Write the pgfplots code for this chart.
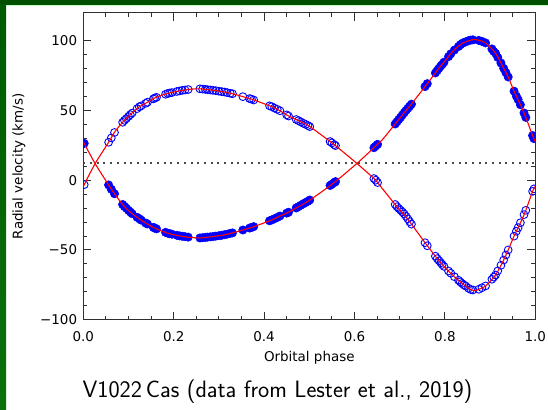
\documentclass[border=0pt]{standalone}
\usepackage{fontspec}
\setmainfont{DejaVu Sans}
\usepackage{pgfplots}
\usepackage{pgfplotstable}
\pgfplotsset{compat=1.18}
\definecolor{frameDark}{HTML}{005000}
\definecolor{frameLeftTop}{HTML}{005A00}
\definecolor{frameLeftBot}{HTML}{0B720B}
\definecolor{obsBlue}{HTML}{0000FF}
\definecolor{fitRed}{HTML}{FF0000}
\definecolor{gammaGray}{HTML}{4A4A4A}
\definecolor{axisInk}{HTML}{303030}

% observed radial velocities: phase, star 1 (filled), star 2 (open)
\pgfplotstableread{
ph v1 v2
0.002 26.4 -3.2
0.056 -3.4 27.2
0.062 -6.5 30.3
0.069 -9.7 34.2
0.087 -17.4 41.5
0.091 -18.8 42.9
0.095 -20.0 44.1
0.100 -21.6 45.7
0.104 -22.8 47.0
0.108 -24.0 48.1
0.119 -26.6 51.3
0.124 -27.7 52.6
0.128 -28.6 53.3
0.138 -30.7 55.1
0.142 -31.4 55.9
0.155 -33.8 58.3
0.158 -34.3 58.9
0.162 -34.9 59.4
0.182 -37.4 61.6
0.187 -38.0 62.2
0.191 -38.3 62.5
0.196 -38.7 62.8
0.207 -39.5 63.6
0.213 -39.9 64.0
0.219 -40.2 64.4
0.225 -40.5 64.7
0.232 -40.8 65.0
0.258 -41.4 65.5
0.264 -41.2 65.3
0.270 -41.0 65.1
0.275 -40.8 64.9
0.281 -40.6 64.7
0.287 -40.4 64.4
0.293 -40.1 64.2
0.300 -39.8 63.8
0.306 -39.5 63.5
0.312 -39.1 63.2
0.318 -38.7 62.8
0.325 -38.1 62.3
0.330 -37.8 62.0
0.353 -35.7 59.9
0.368 -34.3 58.5
0.372 -33.9 58.1
0.377 -33.3 57.5
0.412 -29.1 53.3
0.417 -28.5 52.7
0.423 -27.6 51.7
0.429 -26.7 50.8
0.435 -25.7 49.8
0.450 -23.6 46.8
0.454 -23.0 46.0
0.471 -19.9 43.5
0.476 -19.0 42.7
0.481 -18.0 41.8
0.487 -16.9 40.8
0.492 -16.0 40.0
0.497 -15.1 39.2
0.501 -14.2 38.4
0.546 -3.8 27.7
0.550 -2.9 26.7
0.555 -1.7 25.5
0.558 -1.0 24.8
0.643 23.3 1.2
0.647 24.5 0.0
0.651 25.7 -1.7
0.690 40.3 -17.4
0.694 41.9 -19.0
0.698 43.5 -20.3
0.702 45.1 -21.5
0.706 46.8 -22.8
0.710 48.4 -24.2
0.714 50.0 -25.9
0.718 51.5 -27.7
0.722 53.0 -29.7
0.726 54.5 -31.5
0.756 67.1 -44.8
0.761 69.2 -47.0
0.779 76.9 -54.5
0.783 78.6 -56.2
0.787 80.3 -57.7
0.791 81.9 -59.2
0.794 83.0 -60.4
0.798 84.6 -61.8
0.808 88.6 -65.1
0.813 90.6 -66.7
0.821 93.3 -69.2
0.830 95.8 -71.7
0.834 97.0 -72.9
0.838 98.0 -74.0
0.842 98.7 -75.1
0.846 99.2 -75.9
0.852 100.0 -77.4
0.857 100.4 -78.4
0.862 100.6 -78.7
0.875 100.2 -78.2
0.882 99.5 -77.1
0.890 98.4 -75.8
0.904 94.1 -71.0
0.908 92.3 -69.5
0.912 91.0 -68.0
0.917 88.0 -65.0
0.924 84.0 -61.0
0.930 80.2 -57.2
0.935 77.1 -53.6
0.940 74.0 -50.0
0.953 63.8 -40.1
0.958 60.3 -36.6
0.962 57.7 -34.0
0.967 54.1 -30.5
0.975 48.2 -24.7
0.979 45.0 -21.6
0.994 32.0 -8.0
0.997 29.8 -6.2
}\obs

% orbital solution
\pgfplotstableread{
ph s1 s2
0.000 27.6 -4.5
0.026 12.0 11.8
0.056 -3.4 27.2
0.070 -10.1 34.8
0.088 -17.8 41.9
0.103 -22.6 46.7
0.122 -27.3 52.2
0.139 -30.9 55.3
0.159 -34.5 59.1
0.188 -38.1 62.3
0.216 -40.1 64.2
0.236 -41.0 65.2
0.258 -41.4 65.5
0.284 -40.5 64.6
0.310 -39.3 63.3
0.332 -37.6 61.8
0.353 -35.7 59.9
0.373 -33.8 58.0
0.417 -28.5 52.7
0.435 -25.7 49.8
0.452 -23.3 46.4
0.476 -19.0 42.7
0.499 -14.7 38.9
0.553 -2.2 26.0
0.606 12.2 11.8
0.647 24.5 0.0
0.661 28.8 -5.8
0.694 41.9 -19.0
0.709 48.0 -24.5
0.723 53.4 -30.2
0.757 67.5 -45.2
0.785 79.5 -57.0
0.797 84.2 -61.5
0.817 92.2 -68.0
0.837 97.8 -73.7
0.858 100.5 -78.5
0.868 100.8 -79.0
0.878 100.0 -77.8
0.890 98.4 -75.8
0.912 91.0 -68.0
0.930 80.2 -57.2
0.940 74.0 -50.0
0.954 63.0 -39.3
0.963 57.0 -33.3
0.977 46.7 -23.3
0.994 32.0 -8.0
1.000 27.6 -4.5
}\fit

\begin{document}
\begin{tikzpicture}
\path[use as bounding box] (0,0) rectangle (548bp,410bp);
\fill[white] (0,0) rectangle (548bp,410bp);
\fill[frameDark] (0,405bp) rectangle (548bp,410bp);
\fill[green!25!white] (6bp,404bp) rectangle (548bp,405bp);
\shade[top color=frameLeftTop, bottom color=frameLeftBot] (0,0) rectangle (6bp,405bp);

\begin{axis}[
  at={(83.3bp,90.3bp)}, anchor=south west,
  scale only axis, width=452bp, height=306.9bp,
  xmin=0, xmax=1, ymin=-100, ymax=120,
  xtick={0,0.2,0.4,0.6,0.8,1.0},
  xticklabels={0.0,0.2,0.4,0.6,0.8,1.0},
  ytick={-100,-50,0,50,100},
  yticklabels={−100,−50,0,50,100},
  minor x tick num=3, minor y tick num=4,
  tick align=inside, major tick length=8bp, minor tick length=4bp,
  tick style={axisInk, line width=0.9bp},
  axis line style={axisInk, line width=1.1bp},
  ticklabel style={font=\fontsize{13.5}{16}\selectfont, text=black},
  xticklabel style={inner sep=0pt, anchor=north, yshift=-12bp},
  yticklabel style={inner sep=0pt, anchor=east, xshift=-6bp},
  xlabel={Orbital phase}, ylabel={Radial velocity (km/s)},
  every axis x label/.style={at={(axis description cs:0.5,-0.1362)}, anchor=base,
    font=\fontsize{13.5}{16}\selectfont},
  every axis y label/.style={at={(axis description cs:-0.134,0.5)}, rotate=90, anchor=base,
    font=\fontsize{13.5}{16}\selectfont},
  clip marker paths=true,
]
\addplot[gammaGray, line width=2bp, dash pattern=on 2bp off 4.7bp] coordinates {(0,12) (1,12)};
\addplot[only marks, mark=*, mark size=4.2bp, mark options={draw=obsBlue, fill=obsBlue, line width=0.5bp}] table[x=ph, y=v1] {\obs};
\addplot[only marks, mark=o, mark size=3.9bp, mark options={draw=obsBlue, line width=0.9bp}] table[x=ph, y=v2] {\obs};
\addplot[fitRed, line width=1.1bp, smooth, tension=0.5] table[x=ph, y=s1] {\fit};
\addplot[fitRed, line width=1.1bp, smooth, tension=0.5] table[x=ph, y=s2] {\fit};
\end{axis}

\node[anchor=base, font=\sffamily\fontsize{23.8}{28}\selectfont] at (277.5bp,12.3bp)
  {V1022\,Cas (data from Lester et al., 2019)};
\end{tikzpicture}
\end{document}
